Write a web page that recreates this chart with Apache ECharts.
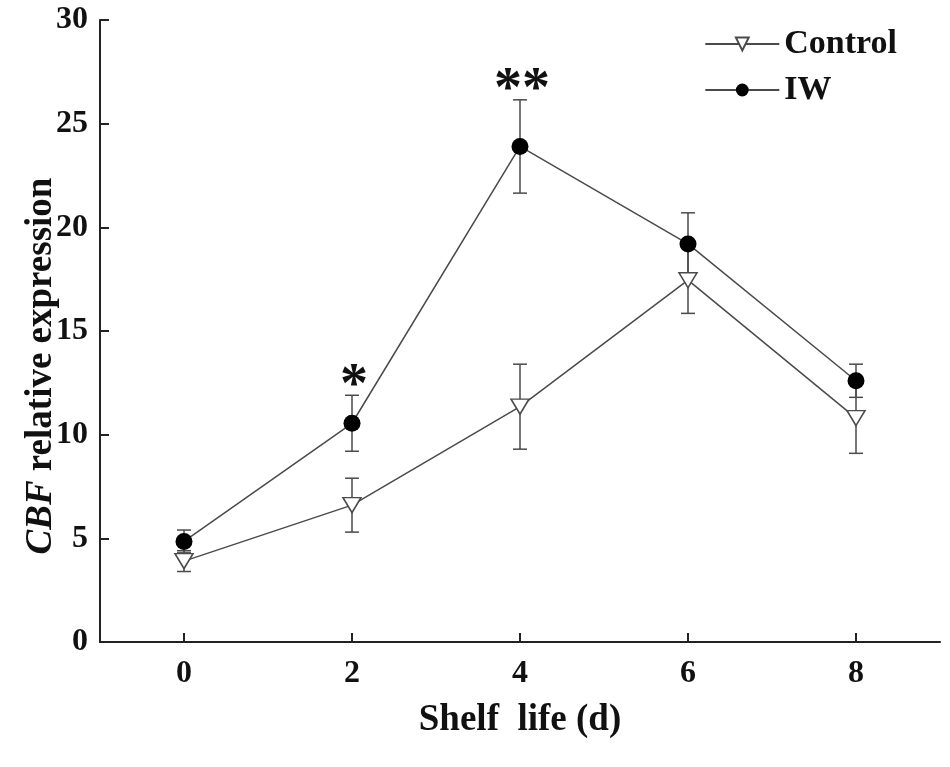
<!doctype html>
<html>
<head>
<meta charset="utf-8">
<title>CBF relative expression</title>
<script src="https://cdn.jsdelivr.net/npm/echarts@6/dist/echarts.min.js"></script>
<style>
  html, body { margin: 0; height: 100%; background: #fff; }
  #draw { width: 950px; height: 767px; }
</style>
</head>
<body>
<div id="draw"></div>
<script>
// data
const days = [0, 2, 4, 6, 8]
const xTicks = [0, 2, 4, 6, 8]
const controlMean = [3.9, 6.6, 11.35, 17.45, 10.8]
const controlErr = [0.5, 1.3, 2.05, 1.6, 1.7]
const iwMean = [4.85, 10.55, 23.9, 19.2, 12.6]
const iwErr = [0.55, 1.35, 2.25, 1.5, 0.8]
const signif = ['', '*', '**', '', '']

const font = 'Liberation Serif'
const lineColor = '#4a4a4a'

function errData(mean, err) {
  return days.map((d, i) => [d, mean[i] - err[i], mean[i] + err[i]])
}

function errItem(params, api) {
  const x = api.coord([api.value(0), api.value(1)])[0]
  const lo = api.coord([api.value(0), api.value(1)])[1]
  const hi = api.coord([api.value(0), api.value(2)])[1]
  const w = 7
  const style = { stroke: lineColor, lineWidth: 1.5 }
  return {
    type: 'group',
    children: [
      { type: 'line', shape: { x1: x, y1: lo, x2: x, y2: hi }, style: style },
      { type: 'line', shape: { x1: x - w, y1: lo, x2: x + w, y2: lo }, style: style },
      { type: 'line', shape: { x1: x - w, y1: hi, x2: x + w, y2: hi }, style: style }
    ]
  }
}

const chart = echarts.init(document.getElementById('draw'))
chart.setOption({
  backgroundColor: '#fff',
  animation: false,
  grid: { left: 100, right: 10, top: 20, bottom: 125 },
  legend: {
    orient: 'vertical',
    right: 48,
    top: 22,
    itemWidth: 74,
    itemHeight: 16,
    itemGap: 12,
    symbolRotate: 'inherit',
    data: ['Control', 'IW'],
    textStyle: { fontFamily: font, fontWeight: 'bold', fontSize: 34, color: '#111' }
  },
  xAxis: {
    type: 'value',
    min: -1,
    max: 9,
    name: 'Shelf  life (d)',
    nameLocation: 'middle',
    nameGap: 60,
    nameMoveOverlap: false,
    nameTextStyle: { fontFamily: font, fontWeight: 'bold', fontSize: 37, color: '#111' },
    axisLine: { onZero: false, lineStyle: { color: '#222', width: 2 } },
    axisTick: { inside: true, length: 9, customValues: xTicks, lineStyle: { color: '#222', width: 2 } },
    axisLabel: { customValues: xTicks, margin: 16, fontFamily: font, fontWeight: 'bold', fontSize: 32, color: '#111' },
    splitLine: { show: false }
  },
  yAxis: {
    type: 'value',
    min: 0,
    max: 30,
    interval: 5,
    name: '{i|CBF} relative expression',
    nameLocation: 'middle',
    nameGap: 40,
    nameRotate: 90,
    nameMoveOverlap: false,
    nameTextStyle: {
      fontFamily: font, fontWeight: 'bold', fontSize: 37, color: '#111',
      padding: [0, 70, 0, 0],
      rich: { i: { fontFamily: font, fontWeight: 'bold', fontStyle: 'italic', fontSize: 37, color: '#111' } }
    },
    axisLine: { show: true, onZero: false, lineStyle: { color: '#222', width: 2 } },
    axisTick: { show: true, inside: true, length: 9, lineStyle: { color: '#222', width: 2 } },
    axisLabel: { margin: 12, fontFamily: font, fontWeight: 'bold', fontSize: 32, color: '#111' },
    splitLine: { show: false }
  },
  series: [
    {
      type: 'custom',
      name: 'controlErr',
      renderItem: errItem,
      data: errData(controlMean, controlErr),
      z: 1,
      silent: true
    },
    {
      type: 'custom',
      name: 'iwErr',
      renderItem: errItem,
      data: errData(iwMean, iwErr),
      z: 1,
      silent: true
    },
    {
      type: 'line',
      name: 'Control',
      data: days.map((d, i) => [d, controlMean[i]]),
      symbol: 'triangle',
      symbolRotate: 180,
      symbolSize: [18, 15],
      lineStyle: { color: lineColor, width: 1.5 },
      itemStyle: { color: '#fff', borderColor: lineColor, borderWidth: 1.5 },
      z: 3
    },
    {
      type: 'line',
      name: 'IW',
      data: days.map((d, i) => [d, iwMean[i]]),
      symbol: 'circle',
      symbolSize: 17,
      lineStyle: { color: lineColor, width: 1.5 },
      itemStyle: { color: '#000', borderColor: '#000', borderWidth: 0 },
      z: 4
    },
    {
      type: 'custom',
      name: 'signif',
      silent: true,
      data: days.map((d, i) => [d, iwMean[i] + iwErr[i]]),
      renderItem: function (params, api) {
        const p = api.coord([api.value(0), api.value(1)])
        return {
          type: 'text',
          x: p[0] + 2,
          y: p[1] + 20,
          style: {
            text: signif[params.dataIndex],
            fontFamily: font,
            fontWeight: 'bold',
            fontSize: 56,
            fill: '#111',
            align: 'center',
            verticalAlign: 'bottom',
            letterSpacing: 4
          }
        }
      },
      z: 5
    }
  ]
})
</script>
</body>
</html>
